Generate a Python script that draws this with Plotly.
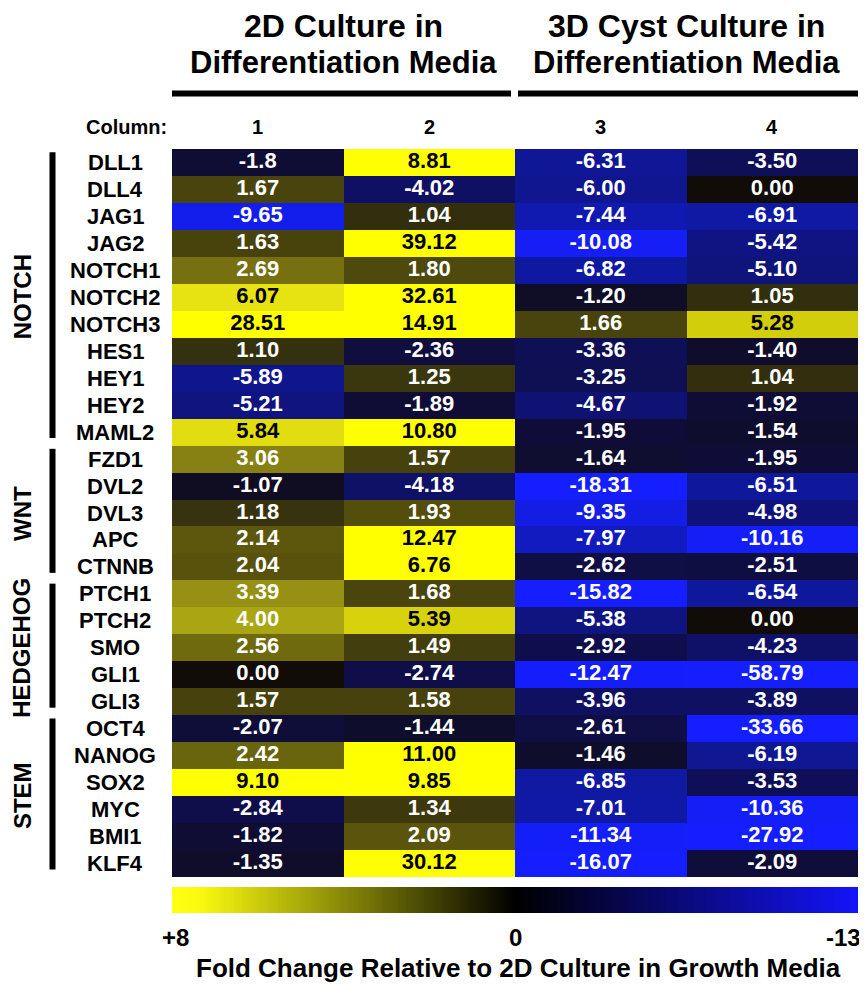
import plotly.graph_objects as go
import numpy as np

genes = ["DLL1", "DLL4", "JAG1", "JAG2", "NOTCH1", "NOTCH2", "NOTCH3", "HES1", "HEY1",
         "HEY2", "MAML2", "FZD1", "DVL2", "DVL3", "APC", "CTNNB", "PTCH1", "PTCH2", "SMO",
         "GLI1", "GLI3", "OCT4", "NANOG", "SOX2", "MYC", "BMI1", "KLF4"]
columns = ["1", "2", "3", "4"]

col1 = ["-1.8", "1.67", "-9.65", "1.63", "2.69", "6.07", "28.51", "1.10", "-5.89", "-5.21",
        "5.84", "3.06", "-1.07", "1.18", "2.14", "2.04", "3.39", "4.00", "2.56", "0.00",
        "1.57", "-2.07", "2.42", "9.10", "-2.84", "-1.82", "-1.35"]
col2 = ["8.81", "-4.02", "1.04", "39.12", "1.80", "32.61", "14.91", "-2.36", "1.25", "-1.89",
        "10.80", "1.57", "-4.18", "1.93", "12.47", "6.76", "1.68", "5.39", "1.49", "-2.74",
        "1.58", "-1.44", "11.00", "9.85", "1.34", "2.09", "30.12"]
col3 = ["-6.31", "-6.00", "-7.44", "-10.08", "-6.82", "-1.20", "1.66", "-3.36", "-3.25", "-4.67",
        "-1.95", "-1.64", "-18.31", "-9.35", "-7.97", "-2.62", "-15.82", "-5.38", "-2.92", "-12.47",
        "-3.96", "-2.61", "-1.46", "-6.85", "-7.01", "-11.34", "-16.07"]
col4 = ["-3.50", "0.00", "-6.91", "-5.42", "-5.10", "1.05", "5.28", "-1.40", "1.04", "-1.92",
        "-1.54", "-1.95", "-6.51", "-4.98", "-10.16", "-2.51", "-6.54", "0.00", "-4.23", "-58.79",
        "-3.89", "-33.66", "-6.19", "-3.53", "-10.36", "-27.92", "-2.09"]

groups = [("NOTCH", 0, 10), ("WNT", 11, 15), ("HEDGEHOG", 16, 20), ("STEM", 21, 26)]
scale_ticks = ["+8", "0", "-13"]

labels = [col1, col2, col3, col4]
nrow, ncol = len(genes), len(columns)
z = [[float(labels[c][r]) for c in range(ncol)] for r in range(nrow)]

# page body has an 8px margin: figure occupies reference pixels 8..867 x 8..984
OFF = 8
W, H = 867 - OFF, 984 - OFF
def px(x):
    return (x - OFF) / W
def py(y):
    return 1 - (y - OFF) / H

X0, X1 = 172, 858
Y0, Y1 = 149, 877

stops = [(-13, (20, 30, 255)), (-10, (20, 30, 245)), (-7, (15, 25, 165)), (-3.5, (15, 15, 88)),
         (-1.5, (15, 13, 45)), (0, (18, 12, 8)), (1, (48, 45, 14)), (2, (86, 80, 12)),
         (3.4, (150, 145, 20)), (5.4, (215, 210, 12)), (6.1, (232, 228, 18)), (6.7, (255, 255, 0)),
         (8, (255, 255, 0))]
zmin, zmax = -13, 8
cscale = [[(v - zmin) / (zmax - zmin), "rgb(%d,%d,%d)" % c] for v, c in stops]

BOLD = '"Liberation Sans", Arial, sans-serif'

def f(size):
    return dict(family=BOLD, size=size, color="black", weight="bold")

fig = go.Figure()
fig.add_trace(go.Heatmap(
    z=z, x=list(range(ncol)), y=list(range(nrow)), zmin=zmin, zmax=zmax,
    colorscale=cscale, showscale=False, xgap=0, ygap=0, hoverinfo="skip"))

tx, ty, tt, tc = [], [], [], []
for r in range(nrow):
    for c in range(ncol):
        tx.append(c); ty.append(r); tt.append(labels[c][r])
        tc.append("black" if z[r][c] >= 5 else "white")
fig.add_trace(go.Scatter(x=tx, y=ty, text=tt, mode="text",
                         textfont=dict(family=BOLD, size=22, color=tc, weight="bold"),
                         hoverinfo="skip", showlegend=False))

# colour-scale legend ramp
ramp = np.linspace(0, 1, 256)
fig.add_trace(go.Heatmap(z=[ramp], x=ramp, y=[0], xaxis="x2", yaxis="y2", showscale=False,
                         colorscale=[[0, "rgb(255,255,20)"], [0.04, "rgb(250,250,15)"],
                                     [0.5, "rgb(0,0,0)"], [1, "rgb(20,20,250)"]],
                         hoverinfo="skip"))

fig.update_layout(
    width=W, height=H, margin=dict(l=0, r=0, t=0, b=0),
    paper_bgcolor="white", plot_bgcolor="white", showlegend=False,
    xaxis=dict(domain=[px(X0), px(X1)], range=[-0.5, ncol - 0.5], visible=False, fixedrange=True),
    yaxis=dict(domain=[py(Y1), py(Y0)], range=[nrow - 0.5, -0.5], visible=False, fixedrange=True),
    xaxis2=dict(domain=[px(X0), px(X1)], range=[0, 1], visible=False, anchor="y2"),
    yaxis2=dict(domain=[py(913), py(887)], range=[-0.5, 0.5], visible=False, anchor="x2"),
)

ann = []
for r, g in enumerate(genes):
    ann.append(dict(x=px(115), y=r, xref="paper", yref="y", text=g, showarrow=False,
                    font=f(22), xanchor="center", yanchor="middle"))
shapes = []
for name, a, b in groups:
    ann.append(dict(x=px(22), y=(a + b) / 2, xref="paper", yref="y", text=name, showarrow=False,
                    textangle=-90, font=f(24), xanchor="center", yanchor="middle"))
    shapes.append(dict(type="line", xref="paper", yref="y", x0=px(52.5), x1=px(52.5),
                       y0=a - 0.38, y1=b + 0.22, line=dict(color="black", width=6)))
for cx, l1 in [((X0 + 515) / 2, "2D Culture in"), ((515 + X1) / 2, "3D Cyst Culture in")]:
    ann.append(dict(x=px(cx), y=py(26), xref="paper", yref="paper", text=l1, showarrow=False,
                    font=f(32), xanchor="center", yanchor="middle"))
    ann.append(dict(x=px(cx), y=py(63), xref="paper", yref="paper", text="Differentiation Media",
                    showarrow=False, font=f(31), xanchor="center", yanchor="middle"))
for xa, xb in [(X0, 511), (518, X1)]:
    shapes.append(dict(type="line", xref="paper", yref="paper", x0=px(xa), x1=px(xb),
                       y0=py(93.5), y1=py(93.5), line=dict(color="black", width=6)))
ann.append(dict(x=px(169), y=py(127), xref="paper", yref="paper", text="Column:", showarrow=False,
                font=f(20), xanchor="right", yanchor="middle"))
for c, lab in enumerate(columns):
    ann.append(dict(x=c, y=py(127), xref="x", yref="paper", text=lab, showarrow=False,
                    font=f(20), xanchor="center", yanchor="middle"))
tick_anchor = ["center", "center", "right"]
tick_x = [px(X0 + 3), px((X0 + X1) / 2), px(863)]
for xx, lab, anc in zip(tick_x, scale_ticks, tick_anchor):
    ann.append(dict(x=xx, y=py(937), xref="paper", yref="paper", text=lab, showarrow=False,
                    font=f(24), xanchor=anc, yanchor="middle"))
ann.append(dict(x=px(518), y=py(968), xref="paper", yref="paper",
                text="Fold Change Relative to 2D Culture in Growth Media", showarrow=False,
                font=f(26), xanchor="center", yanchor="middle"))

fig.update_layout(annotations=ann, shapes=shapes)
fig.write_html("out.html")
